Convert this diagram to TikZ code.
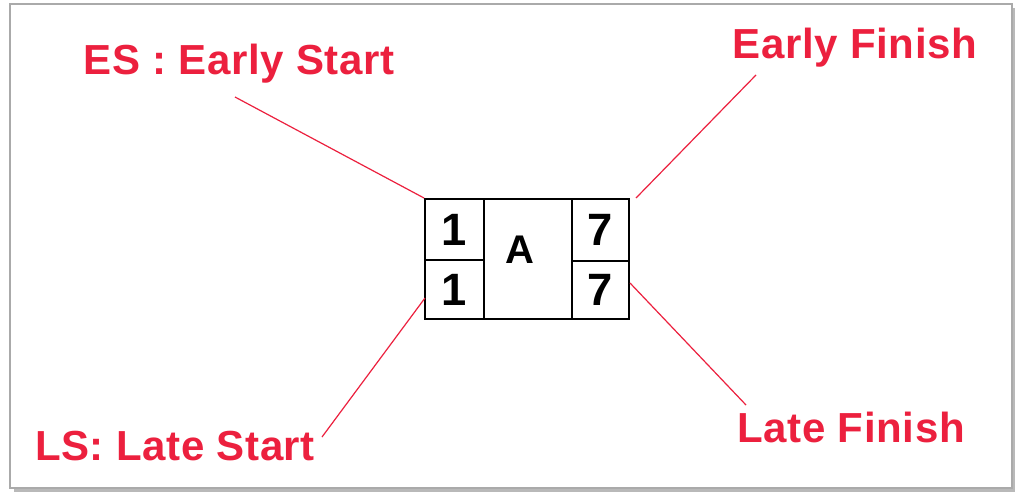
\documentclass[tikz,border=0pt]{standalone}
\usepackage{fontspec}
\setmainfont{Liberation Sans}
\newfontfamily\lblfont[LetterSpace=1.5]{Liberation Sans}
\definecolor{lblred}{RGB}{236,32,62}
\definecolor{framegray}{RGB}{170,170,170}
\begin{document}
\begin{tikzpicture}[x=0.75pt,y=-0.75pt,
  cell/.style={draw=black,line width=1.5pt,inner sep=0pt,font=\fontsize{34}{38}\selectfont\bfseries},
  lbl/.style={text=lblred,inner sep=0pt,font=\lblfont\fontsize{31.5}{36}\selectfont\bfseries},
  conn/.style={draw=lblred,line width=0.9pt}]
\useasboundingbox (0,0) rectangle (1016,493);
% frame with shadow
\fill[gray!55] (14,8) rectangle (1015,492);
\filldraw[fill=white,draw=framegray,line width=1pt] (10,4) rectangle (1012,488);
% cells
\node[cell,minimum width=44.25pt,minimum height=45.75pt] (es) at (454.5,229.5) {1};
\node[cell,minimum width=44.25pt,minimum height=44.25pt] (ls) at (454.5,289.5) {1};
\node[cell,minimum width=66pt,minimum height=90pt] (a) at (528,259) {};
\node[cell,draw=none,font=\fontsize{30}{34}\selectfont\bfseries] (alabel) at (520,250) {A};
\node[cell,minimum width=42.75pt,minimum height=46.5pt] (ef) at (600.5,230) {7};
\node[cell,minimum width=42.75pt,minimum height=43.5pt] (lf) at (600.5,290) {7};
% labels
\node[lbl] (esl) at (239,64) {ES : Early Start};
\node[lbl] (efl) at (855,48) {Early Finish};
\node[lbl] (lsl) at (175,446) {LS: Late Start};
\node[lbl] (lfl) at (851,427) {Late Finish};
% connector free ends
\coordinate (esend) at (235,97);
\coordinate (efend) at (756,75);
\coordinate (lsend) at (322,437);
\coordinate (lfend) at (746,405);
\coordinate (lsbox) at (425,298);
\coordinate (lfbox) at (630,283);
\draw[conn] (esend) -- (es.north west);
\draw[conn] (efend) -- ([xshift=4.5pt]ef.north east);
\draw[conn] (lsend) -- (lsbox);
\draw[conn] (lfend) -- (lfbox);
\end{tikzpicture}
\end{document}
